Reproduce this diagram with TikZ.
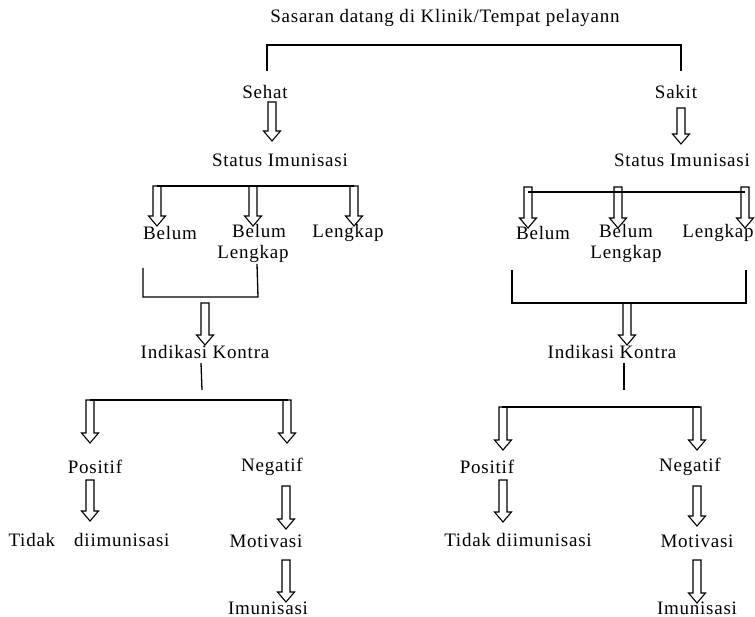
\documentclass[tikz,border=0pt]{standalone}
\usepackage{fontspec}
\setmainfont{Liberation Serif}[LetterSpace=4]
\usetikzlibrary{calc}
\begin{document}
\begin{tikzpicture}[x=1pt,y=-1pt,
  every node/.style={font=\fontsize{19}{21}\selectfont, inner sep=0pt, anchor=center, align=center},
  line/.style={draw, line width=1.3pt},
  hollow/.style={draw, line width=1.1pt, line join=miter,
    to path={let \p1=(\tikztostart), \p2=(\tikztotarget) in
      (\x1-4pt,\y1) -- (\x1+4pt,\y1) -- (\x1+4pt,\y2+10pt) -- (\x1+8.5pt,\y2+10pt)
      -- (\x1,\y2) -- (\x1-8.5pt,\y2+10pt) -- (\x1-4pt,\y2+10pt) -- cycle}}]
\useasboundingbox (0,0) rectangle (755,617);

% ---------- top ----------
\node (title) at (445,18) {Sasaran datang di Klinik/Tempat pelayann};
\coordinate (tl) at (267,45); \coordinate (tr) at (681,45);
\coordinate (tlb) at (267,71); \coordinate (trb) at (681,71);
\draw[line] (tlb) -- (tl) -- (tr) -- (trb);

\node (sehat) at (265,92) {Sehat};
\node (sakit) at (676,92) {Sakit};

% ---------- left branch ----------
\coordinate (a1s) at (272,102); \coordinate (a1e) at (272,141);
\draw[hollow] (a1s) to (a1e);
\node (statL) at (280,160) {Status Imunisasi};

\coordinate (bL1) at (157,186); \coordinate (bL3) at (354,186);
\draw[line] (bL1) -- (bL3);
\coordinate (bL1e) at (157,226); \coordinate (bL2) at (253,186); \coordinate (bL2e) at (253,226);
\coordinate (bL3e) at (354,226);
\draw[hollow] (bL1) to (bL1e);
\draw[hollow] (bL2) to (bL2e);
\draw[hollow] (bL3) to (bL3e);

\node (belumL) at (170,233) {Belum};
\node (blL) at (253,243) {\hspace*{12pt}Belum\\Lengkap};
\node (lengL) at (348,233) {Lengkap};

\coordinate (kL1) at (143,268); \coordinate (kL2) at (143,297);
\coordinate (kL3) at (258,297); \coordinate (kL4) at (257,264);
\draw[line] (kL1) -- (kL2) -- (kL3) -- (kL4);

\coordinate (a2s) at (205,303); \coordinate (a2e) at (205,345);
\draw[hollow] (a2s) to (a2e);
\node (indL) at (205,352) {Indikasi Kontra};

\coordinate (iL1) at (201,363); \coordinate (iL2) at (202,390);
\draw[line] (iL1) -- (iL2);

\coordinate (pL) at (90,400); \coordinate (nL) at (288,400);
\draw[line] (pL) -- (nL);
\coordinate (pLe) at (90,443); \coordinate (nLe) at (287,443); \coordinate (nLs) at (287,400);
\draw[hollow] (pL) to (pLe);
\draw[hollow] (nLs) to (nLe);

\node (posL) at (95,467) {Positif};
\node (negL) at (272,467) {Negatif};

\coordinate (a3s) at (90,480); \coordinate (a3e) at (90,521);
\draw[hollow] (a3s) to (a3e);
\coordinate (a4s) at (286,486); \coordinate (a4e) at (286,529);
\draw[hollow] (a4s) to (a4e);

\node (tidakL) at (89,540) {Tidak\quad diimunisasi};
\node (motL) at (266,541) {Motivasi};

\coordinate (a5s) at (286,560); \coordinate (a5e) at (286,602);
\draw[hollow] (a5s) to (a5e);
\node (imuL) at (268,608) {Imunisasi};

% ---------- right branch ----------
\coordinate (b1s) at (681,108); \coordinate (b1e) at (681,144);
\draw[hollow] (b1s) to (b1e);
\node (statR) at (682,160) {Status Imunisasi};

\coordinate (bR1) at (528,192); \coordinate (bR3) at (745,192);
\draw[line] (bR1) -- (bR3);
\coordinate (bR1s) at (528,187); \coordinate (bR1e) at (528,228);
\coordinate (bR2s) at (618,187); \coordinate (bR2e) at (618,228);
\coordinate (bR3s) at (745,187); \coordinate (bR3e) at (745,228);
\draw[hollow] (bR1s) to (bR1e);
\draw[hollow] (bR2s) to (bR2e);
\draw[hollow] (bR3s) to (bR3e);

\node (belumR) at (543,233) {Belum};
\node (blR) at (626,243) {Belum\\Lengkap};
\node (lengR) at (718,233) {Lengkap};

\coordinate (kR1) at (512,270); \coordinate (kR2) at (512,303);
\coordinate (kR3) at (746,303); \coordinate (kR4) at (746,270);
\draw[line] (kR1) -- (kR2) -- (kR3) -- (kR4);

\coordinate (b2s) at (627,303); \coordinate (b2e) at (627,345);
\draw[hollow] (b2s) to (b2e);
\node (indR) at (612,352) {Indikasi Kontra};

\coordinate (iR1) at (624,363); \coordinate (iR2) at (624,390);
\draw[line] (iR1) -- (iR2);

\coordinate (pR) at (502,407); \coordinate (nR) at (700,407);
\draw[line] (pR) -- (nR);
\coordinate (pRs) at (503,407); \coordinate (pRe) at (503,450);
\coordinate (nRs) at (697,407); \coordinate (nRe) at (697,450);
\draw[hollow] (pRs) to (pRe);
\draw[hollow] (nRs) to (nRe);

\node (posR) at (487,467) {Positif};
\node (negR) at (690,467) {Negatif};

\coordinate (b3s) at (503,480); \coordinate (b3e) at (503,522);
\draw[hollow] (b3s) to (b3e);
\coordinate (b4s) at (697,486); \coordinate (b4e) at (697,526);
\draw[hollow] (b4s) to (b4e);

\node (tidakR) at (518,540) {Tidak diimunisasi};
\node (motR) at (697,541) {Motivasi};

\coordinate (b5s) at (697,560); \coordinate (b5e) at (697,603);
\draw[hollow] (b5s) to (b5e);
\node (imuR) at (697,608) {Imunisasi};
\end{tikzpicture}
\end{document}
